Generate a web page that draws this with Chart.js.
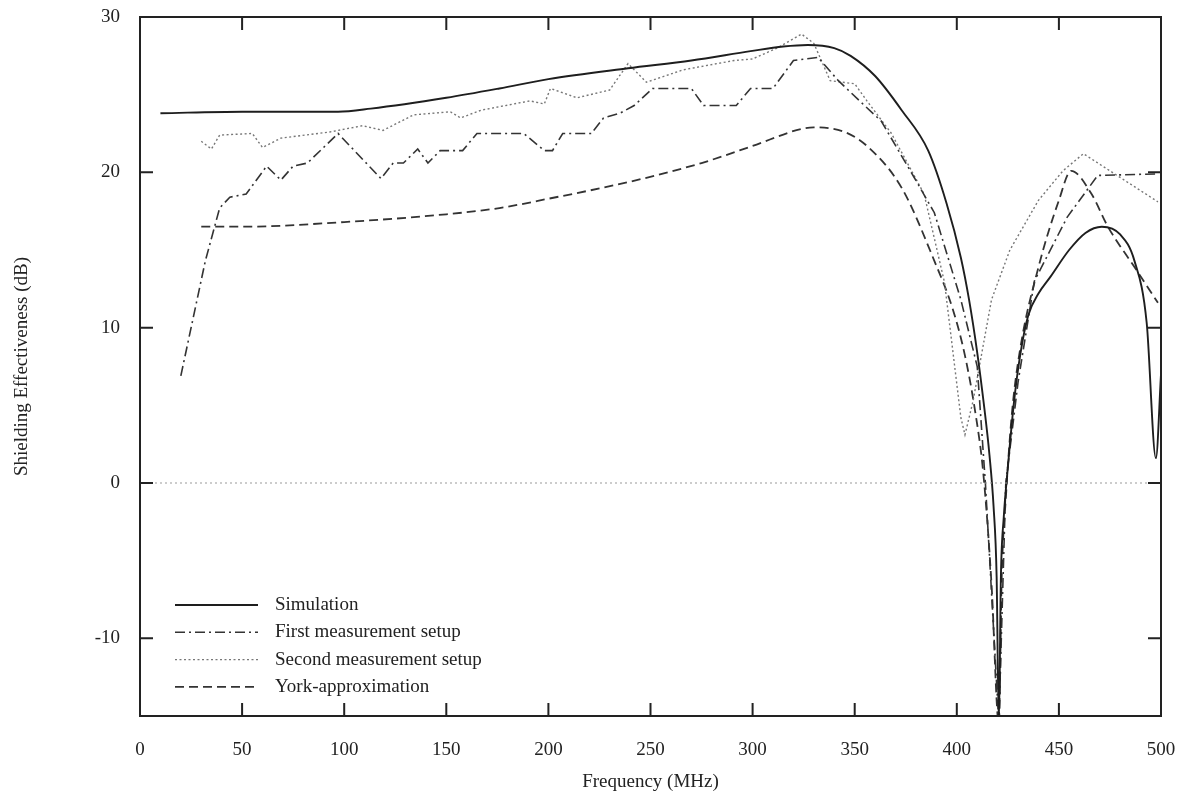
<!DOCTYPE html>
<html>
<head>
<meta charset="utf-8">
<script src="https://cdn.jsdelivr.net/npm/chart.js@4"></script>
<style>
  html, body { margin: 0; padding: 0; background: #fff; }
  #wrap { width: 1187px; height: 801px; }
</style>
</head>
<body>
<div id="wrap"><canvas id="se-chart"></canvas></div>
<script>
// values (frequency in MHz, SE in dB)
var simFreq = [10, 50, 97, 113, 150, 176, 200, 239, 270, 299, 315, 327, 340, 348, 360, 373, 386, 395, 402, 406, 410, 413.5, 416, 418, 419.5, 420.6, 421.6, 423, 425, 428, 431, 435, 440, 446, 455, 463, 471, 480, 487, 493, 497.5, 500];
var simSE   = [23.8, 23.9, 23.9, 24.1, 24.8, 25.4, 26.0, 26.7, 27.2, 27.8, 28.1, 28.2, 28.0, 27.5, 26.2, 24.0, 21.4, 18.0, 14.5, 11.8, 8.4, 4.8, 1.8, -1.5, -6, -15.5, -6, -2.2, 1.0, 5.2, 8.2, 10.8, 12.2, 13.3, 15.0, 16.1, 16.5, 16.0, 14.3, 10.3, 1.6, 7];

var firstFreq = [20, 32, 39, 44, 52, 62, 69, 75, 82, 97, 118, 124, 129, 136, 141, 147, 158, 165, 188, 198, 202, 207, 221, 227, 235, 242, 251, 270, 276, 292, 299, 310, 320, 332, 342, 354, 363, 379, 389, 402, 410, 414, 420.6, 424, 430, 438, 454, 469, 498];
var firstSE   = [6.9, 14.3, 17.7, 18.4, 18.6, 20.4, 19.5, 20.4, 20.6, 22.5, 19.6, 20.6, 20.6, 21.5, 20.6, 21.4, 21.4, 22.5, 22.5, 21.4, 21.4, 22.5, 22.5, 23.5, 23.8, 24.3, 25.4, 25.4, 24.3, 24.3, 25.4, 25.4, 27.2, 27.4, 25.9, 24.4, 23.3, 19.7, 17.4, 11.8, 7.5, 0, -15.5, 0, 6.5, 13.0, 17.1, 19.8, 19.9];

var secondFreq = [30, 35, 39, 55, 60, 69, 93, 109, 119, 134, 152, 157, 167, 191, 198, 201, 214, 230, 239, 248, 266, 291, 300, 312, 324, 330, 338, 350, 356, 368, 384, 394, 402, 404, 408, 417, 426, 440, 452, 462, 498.5];
var secondSE   = [22.0, 21.5, 22.4, 22.5, 21.6, 22.2, 22.6, 23.0, 22.7, 23.7, 23.9, 23.5, 24.0, 24.6, 24.4, 25.4, 24.8, 25.3, 27.0, 25.8, 26.6, 27.2, 27.3, 28.0, 28.9, 28.3, 25.9, 25.7, 24.6, 22.5, 18.6, 12.9, 4.2, 3.1, 5.3, 11.8, 15.0, 18.2, 20.1, 21.2, 18.1];

var yorkFreq = [30, 50, 100, 150, 176, 200, 240, 275, 300, 324, 330, 345, 356, 373, 389, 398, 404, 409, 413, 417, 420.6, 422, 424, 427, 431, 440, 450, 456, 466, 474, 487, 498.5];
var yorkSE   = [16.5, 16.5, 16.8, 17.3, 17.7, 18.3, 19.4, 20.6, 21.7, 22.8, 22.9, 22.6, 21.7, 19.0, 14.3, 11.2, 8.2, 4.6, 0.6, -6.5, -15.5, -6, -1, 4.5, 8.6, 13.9, 18.2, 20.1, 18.6, 16.5, 13.9, 11.6];

var zeroFreq = [0, 500];
var zeroSE   = [0, 0];

var xTicks = [0, 50, 100, 150, 200, 250, 300, 350, 400, 450, 500];
var yTicks = [-10, 0, 10, 20, 30];

function pts(xs, ys) {
    return xs.map(function (x, i) { return { x: x, y: ys[i] }; });
}

var FONT = '"Liberation Serif", "DejaVu Serif", serif';

// gnuplot style frame with inward ticks on all four sides
var framePlugin = {
    id: 'frame',
    afterDraw: function (chart) {
        var ctx = chart.ctx, a = chart.chartArea;
        var xs = chart.scales.x, ys = chart.scales.y;
        var tl = 13;
        ctx.save();
        ctx.strokeStyle = '#222';
        ctx.lineWidth = 2;
        ctx.strokeRect(a.left, a.top, a.right - a.left, a.bottom - a.top);
        ctx.beginPath();
        xTicks.forEach(function (v) {
            var px = xs.getPixelForValue(v);
            ctx.moveTo(px, a.bottom); ctx.lineTo(px, a.bottom - tl);
            ctx.moveTo(px, a.top); ctx.lineTo(px, a.top + tl);
        });
        yTicks.forEach(function (v) {
            var py = ys.getPixelForValue(v);
            ctx.moveTo(a.left, py); ctx.lineTo(a.left + tl, py);
            ctx.moveTo(a.right, py); ctx.lineTo(a.right - tl, py);
        });
        ctx.stroke();
        ctx.restore();
    }
};

// key drawn inside the plot, lower left
var keyPlugin = {
    id: 'key',
    afterDraw: function (chart) {
        var ctx = chart.ctx;
        var x0 = 175, x1 = 258, tx = 275, y0 = 605, dy = 27.3;
        ctx.save();
        ctx.font = '19px ' + FONT;
        ctx.textBaseline = 'middle';
        ctx.fillStyle = '#222';
        var row = 0;
        chart.data.datasets.forEach(function (ds) {
            if (!ds.label) return;
            var y = y0 + row * dy;
            ctx.beginPath();
            ctx.setLineDash(ds.borderDash || []);
            ctx.strokeStyle = ds.borderColor;
            ctx.lineWidth = ds.borderWidth;
            ctx.moveTo(x0, y); ctx.lineTo(x1, y);
            ctx.stroke();
            ctx.setLineDash([]);
            ctx.fillText(ds.label, tx, y);
            row++;
        });
        ctx.restore();
    }
};

var ctx = document.getElementById('se-chart').getContext('2d');
var seChart = new Chart(ctx, {
    type: 'line',
    data: {
        datasets: [
            {
                label: '',
                data: pts(zeroFreq, zeroSE),
                borderColor: '#999',
                borderWidth: 1.2,
                borderDash: [2, 3],
                pointRadius: 0
            },
            {
                label: 'Simulation',
                data: pts(simFreq, simSE),
                borderColor: '#1e1e1e',
                borderWidth: 1.9,
                borderDash: [],
                cubicInterpolationMode: 'monotone',
                pointRadius: 0
            },
            {
                label: 'First measurement setup',
                data: pts(firstFreq, firstSE),
                borderColor: '#333',
                borderWidth: 1.6,
                borderDash: [10, 4, 2, 4],
                pointRadius: 0
            },
            {
                label: 'Second measurement setup',
                data: pts(secondFreq, secondSE),
                borderColor: '#777',
                borderWidth: 1.4,
                borderDash: [2, 2.5],
                pointRadius: 0
            },
            {
                label: 'York-approximation',
                data: pts(yorkFreq, yorkSE),
                borderColor: '#333',
                borderWidth: 1.8,
                borderDash: [9, 5],
                cubicInterpolationMode: 'monotone',
                pointRadius: 0
            }
        ]
    },
    options: {
        responsive: true,
        maintainAspectRatio: false,
        animation: false,
        layout: { padding: { top: 17, right: 26, left: 0, bottom: 0 } },
        plugins: {
            legend: { display: false },
            tooltip: { enabled: false }
        },
        scales: {
            x: {
                type: 'linear',
                min: 0,
                max: 500,
                afterFit: function (s) { s.height = 85; s.paddingLeft = 0; s.paddingRight = 0; },
                afterBuildTicks: function (s) { s.ticks = xTicks.map(function (v) { return { value: v }; }); },
                grid: { display: false },
                border: { display: false },
                ticks: { padding: 15, color: '#222', font: { family: FONT, size: 19 }, maxRotation: 0 },
                title: { display: true, text: 'Frequency (MHz)', color: '#222', font: { family: FONT, size: 19 }, padding: { top: 0, bottom: 8 } }
            },
            y: {
                type: 'linear',
                min: -15,
                max: 30,
                afterFit: function (s) { s.width = 140; s.paddingTop = 0; s.paddingBottom = 0; },
                afterBuildTicks: function (s) { s.ticks = yTicks.map(function (v) { return { value: v }; }); },
                grid: { display: false },
                border: { display: false },
                ticks: { padding: 12, color: '#222', font: { family: FONT, size: 19 } },
                title: { display: true, text: 'Shielding Effectiveness (dB)', color: '#222', font: { family: FONT, size: 19 }, padding: { top: 11, bottom: 0 } }
            }
        }
    },
    plugins: [framePlugin, keyPlugin]
});
</script>
</body>
</html>
